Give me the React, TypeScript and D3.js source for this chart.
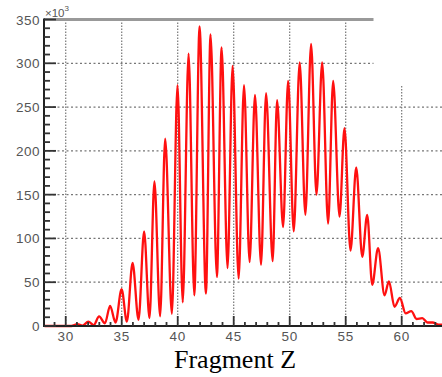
import React from "react";
import * as d3 from "d3";

// Fragment Z distribution (counts in units of 10^3)
const zValues = [28.1, 29.5, 30.5, 31.04, 31.5, 32.02, 32.5, 32.98, 33.5, 33.96, 34.45, 34.99, 35.46, 35.97, 36.5, 37.0, 37.48, 37.92, 38.43, 38.88, 39.48, 39.98, 40.45, 40.97, 41.48, 41.95, 42.52, 42.93, 43.5, 43.92, 44.45, 44.9, 45.44, 45.92, 46.42, 46.9, 47.44, 47.89, 48.48, 48.87, 49.41, 49.86, 50.36, 50.89, 51.4, 51.91, 52.39, 52.9, 53.43, 53.88, 54.45, 54.89, 55.43, 55.94, 56.48, 56.92, 57.37, 57.89, 58.47, 58.86, 59.36, 59.84, 60.35, 60.86, 61.33, 61.84, 62.3, 62.76, 63.3, 63.6];
const counts = [0, 0, 0, 2, 0.5, 5, 1, 11, 3, 23, 4, 42, 5, 72, 7, 108, 9, 165, 11, 214, 14, 275, 27, 311, 35, 342, 37, 333, 56, 318, 66, 297, 54, 275, 73, 264, 70, 266, 74, 258, 113, 280, 108, 301, 127, 322, 150, 301, 117, 280, 125, 226, 86, 181, 79, 127, 47, 89, 35, 51, 22, 32, 14.5, 17, 8, 9, 4, 4, 1.5, 1.5];
const xTicks = [30, 35, 40, 45, 50, 55, 60];
const yTicks = [0, 50, 100, 150, 200, 250, 300, 350];
const title = "Fragment Z";
const yUnit = "×10";

export default function App() {
  const W = 442, H = 377;
  const left = 44, right = 442, top = 19.5, bottom = 326;
  const x = d3.scaleLinear().domain([28.06, 63.6]).range([left, right]);
  const y = d3.scaleLinear().domain([0, 350]).range([bottom, top]);
  const pts = zValues.map((z, i) => [z, counts[i]] as [number, number]);
  const line = d3.line<[number, number]>().x(d => x(d[0])).y(d => y(d[1])).curve(d3.curveMonotoneX);
  const minorX = d3.range(29, 64, 1);
  const minorY = d3.range(0, 351, 10);
  const font = "Liberation Sans, Arial, sans-serif";
  const boxX = 373.5, boxY = 86;
  return (
    <svg width={W} height={H} style={{ position: "absolute", left: 0, top: 0, background: "#fff" }}>
      <rect x={0} y={0} width={W} height={H} fill="#fff" />
      {xTicks.map(t => (
        <line key={"gx" + t} x1={x(t)} x2={x(t)} y1={t === 60 ? boxY : top} y2={bottom}
          stroke="#777" strokeWidth={1.2} strokeDasharray="1.5,1.5" />
      ))}
      {yTicks.filter(t => t > 0 && t < 350).map(t => (
        <line key={"gy" + t} x1={left} x2={y(t) < boxY ? boxX : right} y1={y(t)} y2={y(t)}
          stroke="#777" strokeWidth={1.2} strokeDasharray="2,2.5" />
      ))}
      <line x1={left} x2={boxX} y1={top} y2={top} stroke="#999" strokeWidth={3} />
      <path d={line(pts) || ""} fill="none" stroke="#ff1010" strokeWidth={2.3} strokeLinejoin="round" />
      <line x1={left} x2={left} y1={top - 1} y2={bottom + 1} stroke="#222" strokeWidth={2} />
      <line x1={left - 1} x2={right} y1={bottom} y2={bottom} stroke="#222" strokeWidth={2} />
      {minorY.map(t => (
        <line key={"ty" + t} x1={left} x2={left + (t % 50 === 0 ? 12 : 6)} y1={y(t)} y2={y(t)}
          stroke="#333" strokeWidth={1.8} />
      ))}
      {minorX.map(t => (
        <line key={"tx" + t} x1={x(t)} x2={x(t)} y1={bottom} y2={bottom - (t % 5 === 0 ? 10 : 4)}
          stroke="#333" strokeWidth={1.8} />
      ))}
      {yTicks.map(t => (
        <text key={"ly" + t} x={40} y={y(t) + 5} textAnchor="end" fontFamily={font} fontSize={13.5}
          letterSpacing={0.5} fill="#555">{t}</text>
      ))}
      {xTicks.map(t => (
        <text key={"lx" + t} x={x(t)} y={340.5} textAnchor="middle" fontFamily={font} fontSize={13.5}
          letterSpacing={0.6} fill="#555">{t}</text>
      ))}
      <text x={45} y={16.5} fontFamily={font} fontSize={11.5} fill="#555">{yUnit}
        <tspan dy={-6} fontSize={8}>3</tspan>
      </text>
      <text x={235} y={368} textAnchor="middle" fontFamily="Liberation Serif, Times New Roman, serif"
        fontSize={26} fill="#000">{title}</text>
    </svg>
  );
}
